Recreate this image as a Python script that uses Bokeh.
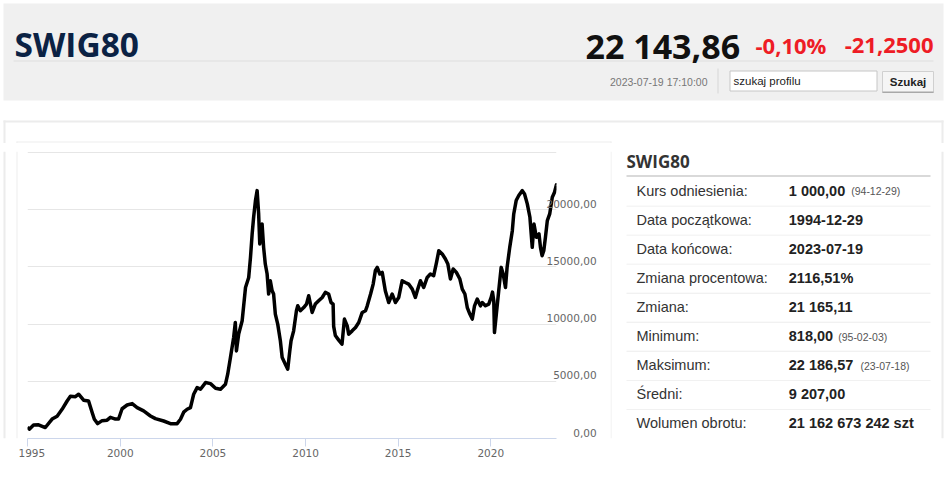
import pandas as pd
from bokeh.plotting import figure
from bokeh.layouts import column, row
from bokeh.models import FixedTicker, DatetimeTickFormatter, Range1d
from bokeh.core.properties import value
from bokeh.embed import file_html
from bokeh.resources import INLINE

# ---------------- data ----------------
dates = [
    "1994-12-29", "1995-02-03", "1995-04-27", "1995-08-04", "1995-12-15", "1996-04-27", "1996-08-04",
    "1996-11-10", "1997-02-17", "1997-04-23", "1997-07-31", "1997-10-02", "1998-01-08", "1998-04-16",
    "1998-06-24", "1998-08-08", "1998-10-12", "1999-01-08", "1999-04-16", "1999-06-21", "1999-09-27",
    "1999-11-28", "2000-02-06", "2000-05-15", "2000-08-22", "2000-11-28", "2001-04-05", "2001-08-18",
    "2001-11-24", "2002-05-05", "2002-09-16", "2003-01-26", "2003-04-02", "2003-06-04", "2003-08-11",
    "2003-10-16", "2003-12-18", "2004-02-24", "2004-04-30", "2004-08-08", "2004-11-14", "2005-02-21",
    "2005-05-30", "2005-09-05", "2005-10-19", "2005-12-12", "2006-02-13", "2006-03-18", "2006-04-09",
    "2006-05-23", "2006-07-31", "2006-10-05", "2006-12-07", "2007-01-11", "2007-02-13", "2007-03-14",
    "2007-04-19", "2007-05-22", "2007-06-21", "2007-07-13", "2007-07-27", "2007-08-28", "2007-09-27",
    "2007-10-30", "2007-12-05", "2008-01-04", "2008-02-06", "2008-03-13", "2008-04-11", "2008-05-15",
    "2008-07-01", "2008-08-22", "2008-09-27", "2008-11-28", "2009-01-15", "2009-02-24", "2009-03-21",
    "2009-05-11", "2009-07-05", "2009-07-31", "2009-09-20", "2009-11-25", "2010-01-19", "2010-03-04",
    "2010-05-11", "2010-07-12", "2010-09-16", "2010-11-25", "2011-01-26", "2011-04-01", "2011-05-18",
    "2011-06-28", "2011-07-09", "2011-08-11", "2011-10-16", "2011-12-20", "2012-02-06", "2012-04-01",
    "2012-04-30", "2012-07-08", "2012-09-12", "2012-11-14", "2013-01-22", "2013-03-28", "2013-05-01",
    "2013-07-06", "2013-08-26", "2013-10-09", "2013-11-14", "2014-01-04", "2014-02-20", "2014-04-22",
    "2014-06-28", "2014-09-05", "2014-11-07", "2015-01-12", "2015-03-20", "2015-05-22", "2015-07-26",
    "2015-10-05", "2015-12-05", "2016-01-22", "2016-03-14", "2016-05-18", "2016-07-26", "2016-09-27",
    "2016-12-01", "2017-01-26", "2017-03-12", "2017-05-19", "2017-07-20", "2017-09-06", "2017-10-27",
    "2017-12-20", "2018-02-21", "2018-05-01", "2018-06-17", "2018-08-08", "2018-09-24", "2018-11-14",
    "2019-01-01", "2019-02-14", "2019-04-08", "2019-06-10", "2019-07-16", "2019-09-17", "2019-11-21",
    "2020-01-08", "2020-02-03", "2020-02-28", "2020-03-13", "2020-04-19", "2020-06-05", "2020-07-23",
    "2020-09-01", "2020-10-16", "2020-11-17", "2021-01-08", "2021-02-28", "2021-03-28", "2021-05-15",
    "2021-07-05", "2021-09-13", "2021-10-27", "2021-12-20", "2022-02-10", "2022-03-07", "2022-03-28",
    "2022-05-01", "2022-06-17", "2022-08-08", "2022-09-06", "2022-10-08", "2022-11-10", "2022-12-13",
    "2023-01-19", "2023-03-07", "2023-04-27", "2023-06-10", "2023-07-18", "2023-07-19",
]
values = [
    1000, 818, 1180, 1200, 960, 1700, 1950,
    2550, 3280, 3700, 3650, 3870, 3350, 3280,
    2300, 1680, 1300, 1560, 1600, 1850, 1700,
    1700, 2600, 2930, 3050, 2700, 2410, 1970,
    1735, 1530, 1300, 1300, 1680, 2300, 2555,
    2700, 3870, 4450, 4310, 4890, 4800, 4400,
    4310, 4745, 5620, 7075, 8830, 10140, 7660,
    9120, 10290, 13200, 14080, 15830, 17880, 19340,
    20800, 21670, 19630, 17000, 18460, 18750, 16710,
    15250, 14380, 12630, 13790, 12920, 12630, 10880,
    10000, 8540, 7075, 6500, 6060, 7660, 8540,
    9410, 11170, 11600, 11170, 11450, 11750, 12480,
    11020, 11750, 12040, 12330, 12770, 12630, 11890,
    11750, 9800, 9000, 8600, 8250, 10440, 9850,
    9120, 9410, 9700, 10140, 11020, 11170, 11600,
    12630, 13500, 14700, 14960, 14380, 14520, 12920,
    11890, 12630, 11890, 12330, 13790, 13640, 13500,
    13060, 12330, 13060, 13790, 13200, 14080, 14380,
    14230, 15390, 16420, 16130, 15690, 15250, 13940,
    14820, 14520, 13940, 13060, 12630, 11450, 10880,
    10440, 11600, 12190, 11600, 11890, 11600, 11750,
    12330, 12800, 12040, 9270, 10880, 12920, 14960,
    14380, 13200, 14960, 16710, 18170, 19630, 20800,
    21240, 21670, 21380, 20510, 19340, 17880, 16710,
    18750, 17590, 17880, 16710, 15980, 16420, 17590,
    19050, 19630, 21090, 21530, 22187, 22144,
]

x_tick_years = [1995, 2000, 2005, 2010, 2015, 2020]
y_tick_values = [0, 5000, 10000, 15000, 20000]
y_tick_labels = ["0,00", "5000,00", "10000,00", "15000,00", "20000,00"]
y_grid_values = [0, 5000, 10000, 15000, 20000, 25000]

header_title = "SWIG80"
last_value = "22 143,86"
change_pct = "-0,10%"
change_abs = "-21,2500"
timestamp = "2023-07-19 17:10:00"
search_placeholder = "szukaj profilu"
search_button = "Szukaj"

stats_title = "SWIG80"
stat_labels = ["Kurs odniesienia:", "Data początkowa:", "Data końcowa:", "Zmiana procentowa:",
               "Zmiana:", "Minimum:", "Maksimum:", "Średni:", "Wolumen obrotu:"]
stat_values = ["1 000,00", "1994-12-29", "2023-07-19", "2116,51%", "21 165,11",
               "818,00", "22 186,57", "9 207,00", "21 162 673 242 szt"]
stat_notes = ["(94-12-29)", "", "", "", "", "(95-02-03)", "(23-07-18)", "", ""]

# ---------------- helpers ----------------
PANEL = "#ececec"
BOXLINE = "#ededed"


def pixfig(w, h):
    f = figure(width=w, height=h, x_range=Range1d(0, w), y_range=Range1d(h, 0),
               min_border=0, x_axis_location=None, y_axis_location=None,
               toolbar_location=None, output_backend="svg", outline_line_color=None,
               background_fill_color="white", border_fill_color="white")
    f.grid.visible = False
    return f


def rect(f, l, r, t, b, fill=None, line=None):
    f.quad(left=[l], right=[r], top=[t], bottom=[b],
           fill_color=fill if fill else None, fill_alpha=1,
           line_color=line if line else None, line_width=1)


def txt(f, x, y, s, size, color, font="Liberation Sans", bold=False, align="left", baseline="middle"):
    f.text(x=[x], y=[y], text=[s], text_font=value(font), text_font_size=size,
           text_color=color, text_font_style="bold" if bold else "normal",
           text_align=align, text_baseline=baseline)


# ---------------- header (y 0..143) ----------------
HH = 143
head = pixfig(948, HH)
rect(head, 3, 943, 3, 100, fill="#f0f0f0")
rect(head, 13, 933, 60, 61, fill="#dddddd")
txt(head, 14, 43.5, header_title, "33.5px", "#0b2244", font="Open Sans", bold=True, baseline="alphabetic")
txt(head, 585, 45.5, last_value, "34px", "#111111", font="Open Sans", bold=True, baseline="alphabetic")
txt(head, 755, 44.5, change_pct, "22px", "#ee1c25", font="Open Sans", bold=True, baseline="alphabetic")
txt(head, 933, 44.5, change_abs, "22px", "#ee1c25", font="Open Sans", bold=True, align="right",
    baseline="alphabetic")
txt(head, 707, 81.5, timestamp, "10.5px", "#777777", align="right")
rect(head, 717, 718, 68, 93, fill="#d6d6d6")
rect(head, 729.5, 876.5, 70.5, 90.5, fill="#ffffff", line="#c6c6c6")
txt(head, 733, 80.5, search_placeholder, "11.5px", "#222222")
rect(head, 882, 933, 71, 92, fill="#f5f5f5", line="#d0d0d0")
rect(head, 882, 933, 91, 92.5, fill="#a8a8a8")
txt(head, 907.5, 81.5, search_button, "11.5px", "#222222", bold=True, align="center")
# panel outer border + chart box top
rect(head, 3, 943, 120, 122, fill=PANEL)
rect(head, 3, 5, 120, HH, fill=PANEL)
rect(head, 941, 943, 120, HH, fill=PANEL)
rect(head, 16, 611, 141, 142, fill=BOXLINE)
rect(head, 16, 17, 141, HH, fill=BOXLINE)
rect(head, 610, 611, 141, HH, fill=BOXLINE)

# ---------------- lower row (y 143..477) ----------------
RH = 477 - HH

left = pixfig(18, RH)
rect(left, 3, 5, 0, RH, fill=PANEL)
rect(left, 16, 17, 0, RH, fill=BOXLINE)

# chart figure: global x 18..610
CW = 592
F_LEFT, F_TOP, F_W, F_H = 9, 8, 529, 287
Y_VIEW_MAX = 25090
x_dt = pd.to_datetime(dates)
chart = figure(
    width=CW, height=RH,
    min_border_left=F_LEFT, min_border_right=CW - F_LEFT - F_W,
    min_border_top=F_TOP, min_border_bottom=RH - F_TOP - F_H,
    x_axis_type="datetime", y_axis_location="right",
    x_range=Range1d(x_dt[0], x_dt[-1]), y_range=Range1d(0, Y_VIEW_MAX),
    toolbar_location=None, output_backend="svg",
    outline_line_color=None, background_fill_color="white", border_fill_color="white",
)
chart.line(x=x_dt, y=values, line_color="#000000", line_width=3.5, line_join="round")

tick_ms = [pd.Timestamp(f"{y}-01-01").value // 10**6 for y in x_tick_years]
chart.xaxis.ticker = FixedTicker(ticks=tick_ms)
chart.xaxis.formatter = DatetimeTickFormatter(years="%Y", months="%Y", days="%Y", hours="%Y")
chart.xaxis.axis_line_color = "#ccd6eb"
chart.xaxis.major_tick_line_color = "#ccd6eb"
chart.xaxis.major_tick_out = 8
chart.xaxis.major_tick_in = 0
chart.xaxis.minor_tick_line_color = None
chart.xaxis.major_label_text_font = "DejaVu Sans"
chart.xaxis.major_label_text_font_size = "10.5px"
chart.xaxis.major_label_text_color = "#666666"
chart.xaxis.major_label_standoff = 2
chart.xgrid.visible = False

# y labels sit ~6px above their grid line, right-aligned
lift = 6 * Y_VIEW_MAX / F_H
label_pos = [v + lift for v in y_tick_values]
width_chars = max(len(s) for s in y_tick_labels)
chart.yaxis.ticker = FixedTicker(ticks=label_pos)
chart.yaxis.major_label_overrides = {p: s.rjust(width_chars, "\u2007") for p, s in zip(label_pos, y_tick_labels)}
chart.yaxis.axis_line_color = None
chart.yaxis.major_tick_line_color = None
chart.yaxis.major_tick_out = 0
chart.yaxis.major_tick_in = 0
chart.yaxis.minor_tick_line_color = None
chart.yaxis.major_label_text_font = "DejaVu Sans"
chart.yaxis.major_label_text_font_size = "10.5px"
chart.yaxis.major_label_text_color = "#666666"
chart.yaxis.major_label_standoff = -10
chart.ygrid.ticker = FixedTicker(ticks=y_grid_values)
chart.ygrid.grid_line_color = "#e6e6e6"

# table figure: global x 610..948
TW = 338
table = pixfig(TW, RH)
rect(table, 0, 1, 0, RH, fill=BOXLINE)
rect(table, 331, 333, 0, RH, fill=PANEL)
txt(table, 16, 12, stats_title, "17px", "#333333", font="Open Sans", bold=True)
rect(table, 16, 320, 28, 29, fill="#b4b4b4")
note_x = {0: 240.7, 5: 227.7, 6: 250.0}
for i, (lab, val) in enumerate(zip(stat_labels, stat_values)):
    cy = 46.0 + 33.8 * i
    txt(table, 26, cy, lab, "14.5px", "#333333")
    txt(table, 178.3, cy, val, "14.5px", "#222222", bold=True)
    if stat_notes[i]:
        txt(table, note_x[i], cy + 0.5, stat_notes[i], "10.5px", "#555555")
    if i < len(stat_labels) - 1:
        sep = 63.0 + 33.8 * i
        rect(table, 16, 320, sep, sep + 1, fill="#ececec")

page = column(head, row(left, chart, table, spacing=0), spacing=0)
open("out.html", "w").write(file_html(page, INLINE))
